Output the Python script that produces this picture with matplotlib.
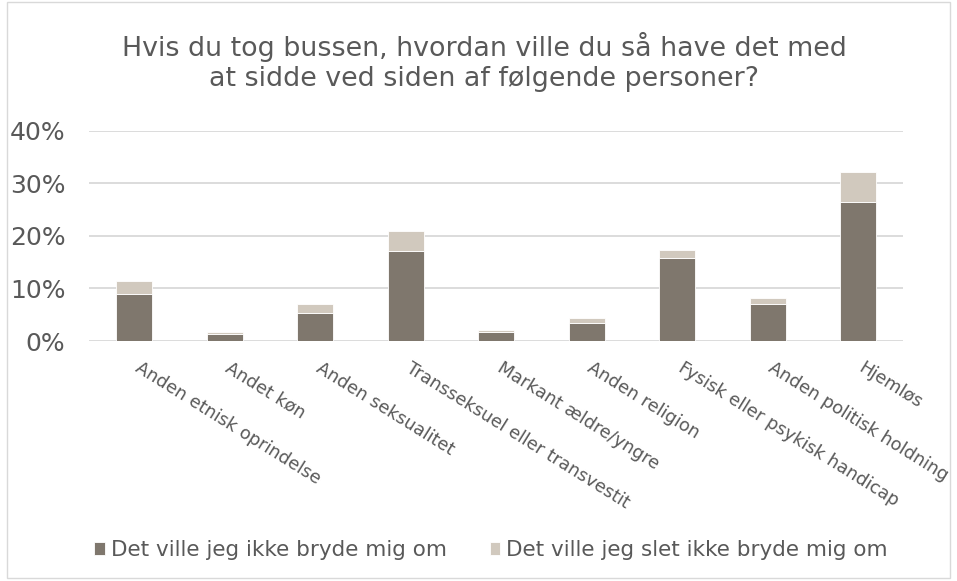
import numpy as np
import matplotlib
matplotlib.use('Agg')
import matplotlib.pyplot as plt
from matplotlib.patches import Rectangle

categories = ['Anden etnisk oprindelse', 'Andet køn', 'Anden seksualitet',
              'Transseksuel eller transvestit', 'Markant ældre/yngre',
              'Anden religion', 'Fysisk eller psykisk handicap',
              'Anden politisk holdning', 'Hjemløs']
ikke_bryde = [0.090, 0.014, 0.053, 0.171, 0.018, 0.034, 0.158, 0.071, 0.265]
slet_ikke_bryde = [0.024, 0.004, 0.017, 0.038, 0.003, 0.010, 0.016, 0.011, 0.057]
series_names = ['Det ville jeg ikke bryde mig om', 'Det ville jeg slet ikke bryde mig om']

dark = '#7F776D'
light = '#D1C9BE'
txt = '#595959'

fig = plt.figure(figsize=(9.57, 5.81), dpi=100)
ax = fig.add_axes([0.093, 0.413, 0.851, 0.362])

x = np.arange(len(categories))
b1 = ax.bar(x, ikke_bryde, width=0.4, color=dark, edgecolor='white', linewidth=0.6, label=series_names[0], zorder=3)
b2 = ax.bar(x, slet_ikke_bryde, width=0.4, bottom=ikke_bryde, color=light, edgecolor='white', linewidth=0.6, label=series_names[1], zorder=3)

ax.set_xlim(-0.5, len(categories) - 0.5)
ax.set_ylim(0, 0.4)
ax.set_yticks([0, 0.1, 0.2, 0.3, 0.4])
ax.set_yticklabels(['0%', '10%', '20%', '30%', '40%'], fontsize=18, color=txt)
ax.yaxis.grid(True, color='#D9D9D9', linewidth=1.3, zorder=0)
ax.tick_params(axis='y', length=0, pad=17)
ax.tick_params(axis='x', length=0, pad=13)
for s in ax.spines.values():
    s.set_visible(False)

ax.set_xticks(x)
ax.set_xticklabels(categories, rotation=-32, ha='left', va='top', rotation_mode='anchor',
                   fontsize=12.8, color=txt)
# nudge the slanted labels a little to the right, like the original
from matplotlib.transforms import ScaledTranslation
for lab in ax.get_xticklabels():
    lab.set_transform(lab.get_transform() + ScaledTranslation(0.07, 0, fig.dpi_scale_trans))

fig.text(0.506, 0.893, 'Hvis du tog bussen, hvordan ville du så have det med\nat sidde ved siden af følgende personer?',
         ha='center', va='center', fontsize=19.4, color=txt, linespacing=1.2)

fig.legend(handles=[b1, b2], labels=series_names, loc='center', bbox_to_anchor=(0.513, 0.053),
           ncol=2, frameon=False, fontsize=15.5, labelcolor=txt, handlelength=0.5, handleheight=0.5,
           handletextpad=0.25, columnspacing=2.0)

fig.patches.append(Rectangle((0.007, 0.006), 0.986, 0.99, transform=fig.transFigure,
                             fill=False, edgecolor='#D9D9D9', linewidth=1))

fig.savefig('out.png', dpi=100)
